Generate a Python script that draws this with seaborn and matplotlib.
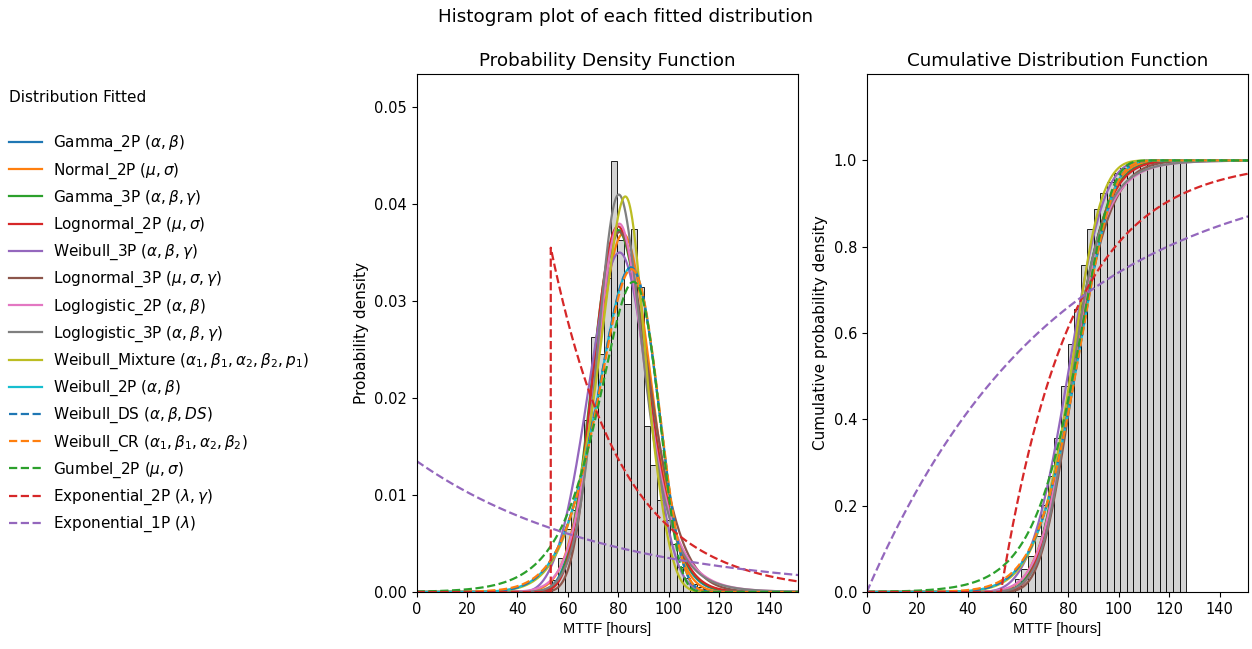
import math
import numpy as np
import pandas as pd
import matplotlib
matplotlib.use("Agg")
import matplotlib.pyplot as plt
import seaborn as sns
from matplotlib.lines import Line2D

# ---------------- data ----------------
# histogram of MTTF values (bin edges and density heights)
bin_start = 53.5
bin_width = 2.615
pdf_heights = [0.0012, 0.0035, 0.0065, 0.0085, 0.0108, 0.0177, 0.0263, 0.0245,
               0.0324, 0.0444, 0.0363, 0.0297, 0.0374, 0.0315, 0.0171, 0.0131,
               0.0095, 0.0074, 0.0050, 0.0026, 0.0014, 0.0008, 0.0005, 0.0003,
               0.0002, 0.0001, 0.0001, 0.0001]

# fitted distribution parameters (estimated from the curves)
gamma_2p = [1.42, 57.6]                 # alpha (scale), beta (shape)
normal_2p = [81.9, 10.8]                # mu, sigma
gamma_3p = [1.9, 32.5, 20.0]            # alpha, beta, gamma
lognormal_2p = [4.398, 0.1313]          # mu, sigma
weibull_3p = [43.5, 4.0, 40.0]          # alpha, beta, gamma
lognormal_3p = [4.133, 0.175, 20.0]     # mu, sigma, gamma
loglogistic_2p = [81.5, 12.3]           # alpha, beta
loglogistic_3p = [58.0, 9.4, 23.5]      # alpha, beta, gamma
weibull_mixture = [83.0, 14.0, 84.5, 8.0, 0.21]  # a1, b1, a2, b2, p1
weibull_2p = [86.5, 7.8]                # alpha, beta
weibull_ds = [86.5, 7.8, 1.0]           # alpha, beta, DS
weibull_cr = [86.9, 7.9, 300.0, 3.0]    # a1, b1, a2, b2
gumbel_2p = [86.0, 11.5]                # mu, sigma
exponential_2p = [0.0355, 53.2]         # lambda, gamma
exponential_1p = [0.0135]               # lambda

dist_labels = [
    r"Gamma_2P ($\alpha,\beta$)",
    r"Normal_2P ($\mu,\sigma$)",
    r"Gamma_3P ($\alpha,\beta,\gamma$)",
    r"Lognormal_2P ($\mu,\sigma$)",
    r"Weibull_3P ($\alpha,\beta,\gamma$)",
    r"Lognormal_3P ($\mu,\sigma,\gamma$)",
    r"Loglogistic_2P ($\alpha,\beta$)",
    r"Loglogistic_3P ($\alpha,\beta,\gamma$)",
    r"Weibull_Mixture ($\alpha_1,\beta_1,\alpha_2,\beta_2,p_1$)",
    r"Weibull_2P ($\alpha,\beta$)",
    r"Weibull_DS ($\alpha,\beta,DS$)",
    r"Weibull_CR ($\alpha_1,\beta_1,\alpha_2,\beta_2$)",
    r"Gumbel_2P ($\mu,\sigma$)",
    r"Exponential_2P ($\lambda,\gamma$)",
    r"Exponential_1P ($\lambda$)",
]

# ---------------- distribution functions ----------------
def _pos(x, g):
    t = x - g
    return np.where(t > 0, t, np.nan)

def gamma_pdf(x, a, b, g=0.0):
    t = _pos(x, g)
    v = np.exp((b - 1) * np.log(t) - t / a - math.lgamma(b) - b * math.log(a))
    return np.nan_to_num(v)

def normal_pdf(x, mu, s):
    return np.exp(-0.5 * ((x - mu) / s) ** 2) / (s * math.sqrt(2 * math.pi))

def lognormal_pdf(x, mu, s, g=0.0):
    t = _pos(x, g)
    v = np.exp(-0.5 * ((np.log(t) - mu) / s) ** 2) / (t * s * math.sqrt(2 * math.pi))
    return np.nan_to_num(v)

def weibull_pdf(x, a, b, g=0.0):
    t = _pos(x, g)
    v = b / a * (t / a) ** (b - 1) * np.exp(-(t / a) ** b)
    return np.nan_to_num(v)

def weibull_sf(x, a, b):
    t = np.clip(x, 0, None)
    return np.exp(-(t / a) ** b)

def loglogistic_pdf(x, a, b, g=0.0):
    t = _pos(x, g)
    r = (t / a)
    v = (b / a) * r ** (b - 1) / (1 + r ** b) ** 2
    return np.nan_to_num(v)

def gumbel_pdf(x, mu, s):
    z = (x - mu) / s
    return np.exp(z - np.exp(z)) / s

def exponential_pdf(x, lam, g=0.0):
    return np.where(x >= g, lam * np.exp(-lam * (x - g)), 0.0)

x = np.linspace(0, 155, 6201)
x = np.unique(np.concatenate([x, [exponential_2p[1] - 1e-6, exponential_2p[1]]]))

a1, b1, a2, b2 = weibull_cr
s1 = weibull_sf(x, a1, b1)
s2 = weibull_sf(x, a2, b2)
cr_pdf = weibull_pdf(x, a1, b1) * s2 + weibull_pdf(x, a2, b2) * s1

pdfs = [
    gamma_pdf(x, *gamma_2p),
    normal_pdf(x, *normal_2p),
    gamma_pdf(x, *gamma_3p),
    lognormal_pdf(x, *lognormal_2p),
    weibull_pdf(x, *weibull_3p),
    lognormal_pdf(x, *lognormal_3p),
    loglogistic_pdf(x, *loglogistic_2p),
    loglogistic_pdf(x, *loglogistic_3p),
    weibull_mixture[4] * weibull_pdf(x, weibull_mixture[0], weibull_mixture[1])
    + (1 - weibull_mixture[4]) * weibull_pdf(x, weibull_mixture[2], weibull_mixture[3]),
    weibull_pdf(x, *weibull_2p),
    weibull_ds[2] * weibull_pdf(x, weibull_ds[0], weibull_ds[1]),
    cr_pdf,
    gumbel_pdf(x, *gumbel_2p),
    exponential_pdf(x, *exponential_2p),
    exponential_pdf(x, *exponential_1p),
]

def cum(p):
    return np.concatenate([[0.0], np.cumsum(0.5 * (p[1:] + p[:-1]) * np.diff(x))])

cdfs = [cum(p) for p in pdfs]
cdfs[1] = cdfs[1] + 0.5 * (1 + math.erf((0 - normal_2p[0]) / (normal_2p[1] * math.sqrt(2))))
cdfs[12] = cdfs[12] + 1 - math.exp(-math.exp((0 - gumbel_2p[0]) / gumbel_2p[1]))

colors = [f"C{i}" for i in range(10)] + ["C0", "C1", "C2", "C3", "C4"]
styles = ["-"] * 10 + ["--"] * 5

edges = [bin_start + bin_width * i for i in range(len(pdf_heights) + 1)]
centers = [0.5 * (edges[i] + edges[i + 1]) for i in range(len(pdf_heights))]
hist_df = pd.DataFrame({"mttf": centers, "h": pdf_heights})

# ---------------- figure ----------------
fig = plt.figure(figsize=(12.52, 6.49), dpi=100)
ax1 = fig.add_axes([0.3328, 0.0878, 0.3046, 0.798])
ax2 = fig.add_axes([0.6923, 0.0878, 0.3046, 0.798])

sns.histplot(data=hist_df, x="mttf", weights="h", bins=edges, stat="count", ax=ax1,
             color="lightgrey", edgecolor="black", linewidth=0.6, alpha=1)
sns.histplot(data=hist_df, x="mttf", weights="h", bins=edges, stat="density",
             cumulative=True, ax=ax2, color="lightgrey", edgecolor="black",
             linewidth=0.6, alpha=1)

for p, c, col, ls in zip(pdfs, cdfs, colors, styles):
    sns.lineplot(x=x, y=p, ax=ax1, color=col, linestyle=ls, linewidth=1.6,
                 estimator=None, sort=False)
    sns.lineplot(x=x, y=c, ax=ax2, color=col, linestyle=ls, linewidth=1.6,
                 estimator=None, sort=False)

tick_fs = 10.5
title_fs = 13.2
ax1.set_xlim(0, 151.3)
ax1.set_ylim(0, 0.0534)
ax1.set_yticks(np.arange(0, 0.051, 0.01))
ax1.set_title("Probability Density Function", fontsize=title_fs)
ax1.set_ylabel("Probability density", fontsize=11)
ax1.set_xlabel("MTTF [hours]", fontsize=10.5, family="Liberation Sans")
ax1.tick_params(labelsize=tick_fs)

ax2.set_xlim(0, 151.3)
ax2.set_ylim(0, 1.2)
ax2.set_yticks(np.arange(0, 1.01, 0.2))
ax2.set_title("Cumulative Distribution Function", fontsize=title_fs)
ax2.set_ylabel("Cumulative probability density", fontsize=11)
ax2.set_xlabel("MTTF [hours]", fontsize=10.5, family="Liberation Sans")
ax2.tick_params(labelsize=tick_fs)

fig.suptitle("Histogram plot of each fitted distribution", fontsize=title_fs, y=0.988)

handles = [Line2D([0], [0], color=col, linestyle=ls, linewidth=1.6)
           for col, ls in zip(colors, styles)]
leg = fig.legend(handles, dist_labels, loc="upper left", bbox_to_anchor=(-0.004, 0.883),
                 frameon=False, title="Distribution Fitted\n", alignment="left",
                 fontsize=11, title_fontsize=11, labelspacing=0.51,
                 handlelength=2.16, handletextpad=0.72)
leg.get_title().set_linespacing(1.55)

fig.savefig("out.png", dpi=100)
